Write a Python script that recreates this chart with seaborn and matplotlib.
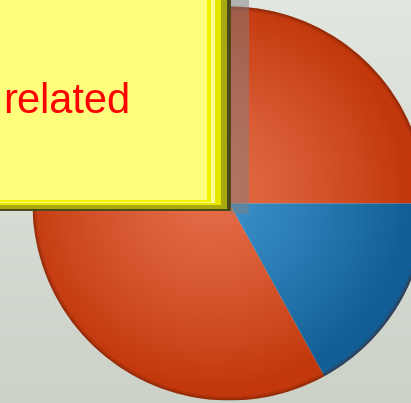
import numpy as np
import matplotlib
matplotlib.use("Agg")
import matplotlib.pyplot as plt
from matplotlib.patches import Rectangle, Circle
from matplotlib.colors import ListedColormap
import seaborn as sns

# ---- data ----
categories = ["other", "related"]
values = [83, 17]
light_colors = ["#E46D48", "#3B92CA"]
dark_colors = ["#C2380C", "#135E96"]
note_text = "related"

sns.set_theme(style="white")
plt.rcParams["font.family"] = ["Liberation Sans", "DejaVu Sans"]

W, H = 411, 403
fig = plt.figure(figsize=(W / 100, H / 100), dpi=100)
ax = fig.add_axes([0, 0, 1, 1])


def Y(y):
    return H - y


# background vertical gradient
bg_cmap = ListedColormap(sns.blend_palette(["#E2E6E0", "#CCD2C8"], 256))
grad = np.linspace(0, 1, 256).reshape(-1, 1)
ax.imshow(grad, cmap=bg_cmap, extent=[0, W, 0, H], origin="upper",
          aspect="auto", zorder=0)

# pie
cx, cy, R = 229.5, Y(203.5), 197
wedges, _ = ax.pie(values, startangle=0, counterclock=True,
                   center=(cx, cy), radius=R, frame=True,
                   wedgeprops=dict(facecolor="none", edgecolor="none"))
ax.set_xlim(0, W)
ax.set_ylim(0, H)
ax.axis("off")

n = 400
xs = np.linspace(cx - R, cx + R, n)
ys = np.linspace(cy + R, cy - R, n)
XX, YY = np.meshgrid(xs, ys)
rr = np.clip(np.hypot(XX - cx + 20, YY - cy - 10) / R, 0, 1)
for w, lc, dc in zip(wedges, light_colors, dark_colors):
    cmap = ListedColormap(sns.blend_palette([lc, dc], 256))
    im = ax.imshow(rr ** 1.3, cmap=cmap, vmin=0, vmax=1,
                   extent=[cx - R, cx + R, cy - R, cy + R],
                   origin="upper", aspect="auto", zorder=2,
                   interpolation="bilinear")
    im.set_clip_path(w)

# dark soft rim
for lw, a in [(4, 0.15), (2, 0.3)]:
    ax.add_patch(Circle((cx, cy), R - lw / 2, facecolor="none",
                        edgecolor="#5A1A05", linewidth=lw * 0.72, alpha=a,
                        zorder=3))

# note shadow
ax.add_patch(Rectangle((231, Y(214)), 18, 214 + 5, facecolor="#808080",
                       alpha=0.5, edgecolor="none", zorder=4))

# sticky note body with layered edges
layers = [
    (231, 211, "#4A4A1C"),
    (227, 209, "#A8A810"),
    (221, 205, "#E6E600"),
    (215, 203, "#FAFA90"),
    (211, 202, "#F2F200"),
    (207, 200, "#FEFE7C"),
]
for right, bottom, col in layers:
    ax.add_patch(Rectangle((-10, Y(bottom)), right + 10, bottom + 10,
                           facecolor=col, edgecolor="none", zorder=5))

ax.text(3, Y(113), note_text, fontsize=30, color="#FF0000",
        family=["Liberation Sans", "DejaVu Sans"], va="baseline",
        ha="left", zorder=6)

fig.savefig("out.png", dpi=100)
